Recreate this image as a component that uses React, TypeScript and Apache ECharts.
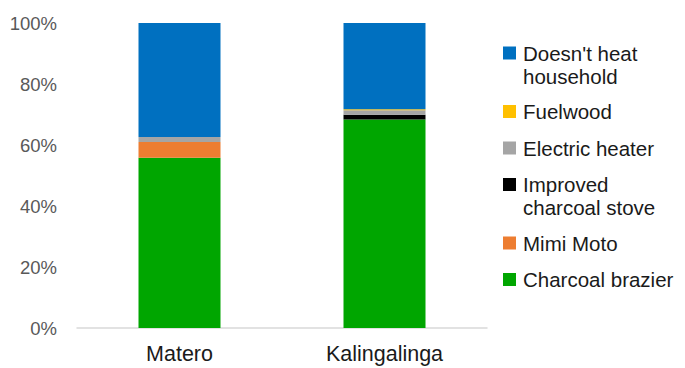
import React, { useEffect, useRef } from "react";
import * as echarts from "echarts";

// Neighbourhoods on the x axis
const categories = ["Matero", "Kalingalinga"];

// Share of households (%) by main heating method, bottom of the stack first
const charcoalBrazier = [55.8, 68.4];
const mimiMoto = [5.2, 0];
const improvedCharcoalStove = [0, 1.5];
const electricHeater = [1.6, 1.5];
const fuelwood = [0, 0.3];
const doesntHeat = [37.4, 28.3];

const yTicks = [0, 20, 40, 60, 80, 100];

const seriesNames = [
  "Charcoal brazier",
  "Mimi Moto",
  "Improved charcoal stove",
  "Electric heater",
  "Fuelwood",
  "Doesn't heat household",
];
const seriesData = [
  charcoalBrazier,
  mimiMoto,
  improvedCharcoalStove,
  electricHeater,
  fuelwood,
  doesntHeat,
];
const seriesColors = ["#00A600", "#ED7D31", "#000000", "#A5A5A5", "#FFC000", "#0070C0"];

// Legend wording, wrapped the way it is shown beside the plot
const legendLines: Record<string, string[]> = {
  "Doesn't heat household": ["Doesn't heat", "household"],
  "Fuelwood": ["Fuelwood"],
  "Electric heater": ["Electric heater"],
  "Improved charcoal stove": ["Improved", "charcoal stove"],
  "Mimi Moto": ["Mimi Moto"],
  "Charcoal brazier": ["Charcoal brazier"],
};

const FONT = "'Liberation Sans', Arial, sans-serif";

// Legend drawn by hand so that the swatch sits beside the first line of a wrapped name
function buildLegend() {
  const elements: any[] = [];
  const order = seriesNames.map((n, i) => i).reverse();
  let y = 53;
  const lineH = 23;
  const gap = 36.5;
  order.forEach((i) => {
    const name = seriesNames[i];
    const lines = legendLines[name];
    elements.push({
      type: "rect",
      shape: { x: 503, y: y - 6.5, width: 13, height: 13 },
      style: { fill: seriesColors[i] },
      silent: true,
    });
    elements.push({
      type: "text",
      x: 523,
      y: y - lineH / 2,
      style: {
        text: lines.join("\n"),
        fill: "#1a1a1a",
        font: `20.5px ${FONT}`,
        lineHeight: lineH,
        verticalAlign: "top",
        align: "left",
      },
      silent: true,
    });
    y += (lines.length - 1) * 22 + gap;
  });
  return elements;
}

export default function App() {
  const ref = useRef<HTMLDivElement>(null);

  useEffect(() => {
    document.body.style.margin = "0";
    if (!ref.current) return;
    const chart = echarts.init(ref.current, null, { renderer: "svg" });
    chart.setOption({
      animation: false,
      backgroundColor: "#ffffff",
      grid: { left: 77, right: 198, top: 23, bottom: 40, containLabel: false },
      xAxis: {
        type: "category",
        data: categories,
        axisLine: { show: true, lineStyle: { color: "#D9D9D9", width: 1.5 } },
        axisTick: { show: false },
        axisLabel: {
          color: "#1a1a1a",
          fontSize: 21.5,
          fontFamily: FONT,
          margin: 15,
        },
      },
      yAxis: {
        type: "value",
        min: yTicks[0],
        max: yTicks[yTicks.length - 1],
        interval: yTicks[1] - yTicks[0],
        splitLine: { show: false },
        axisLine: { show: false },
        axisTick: { show: false },
        axisLabel: {
          color: "#595959",
          fontSize: 18.5,
          fontFamily: FONT,
          margin: 20,
          formatter: (v: number) => `${v}%`,
        },
      },
      series: seriesNames.map((name, i) => ({
        name,
        type: "bar",
        stack: "total",
        barWidth: "40%",
        data: seriesData[i],
        itemStyle: { color: seriesColors[i] },
      })),
      graphic: buildLegend(),
    });
    return () => chart.dispose();
  }, []);

  return <div ref={ref} style={{ width: 685, height: 368 }} />;
}
